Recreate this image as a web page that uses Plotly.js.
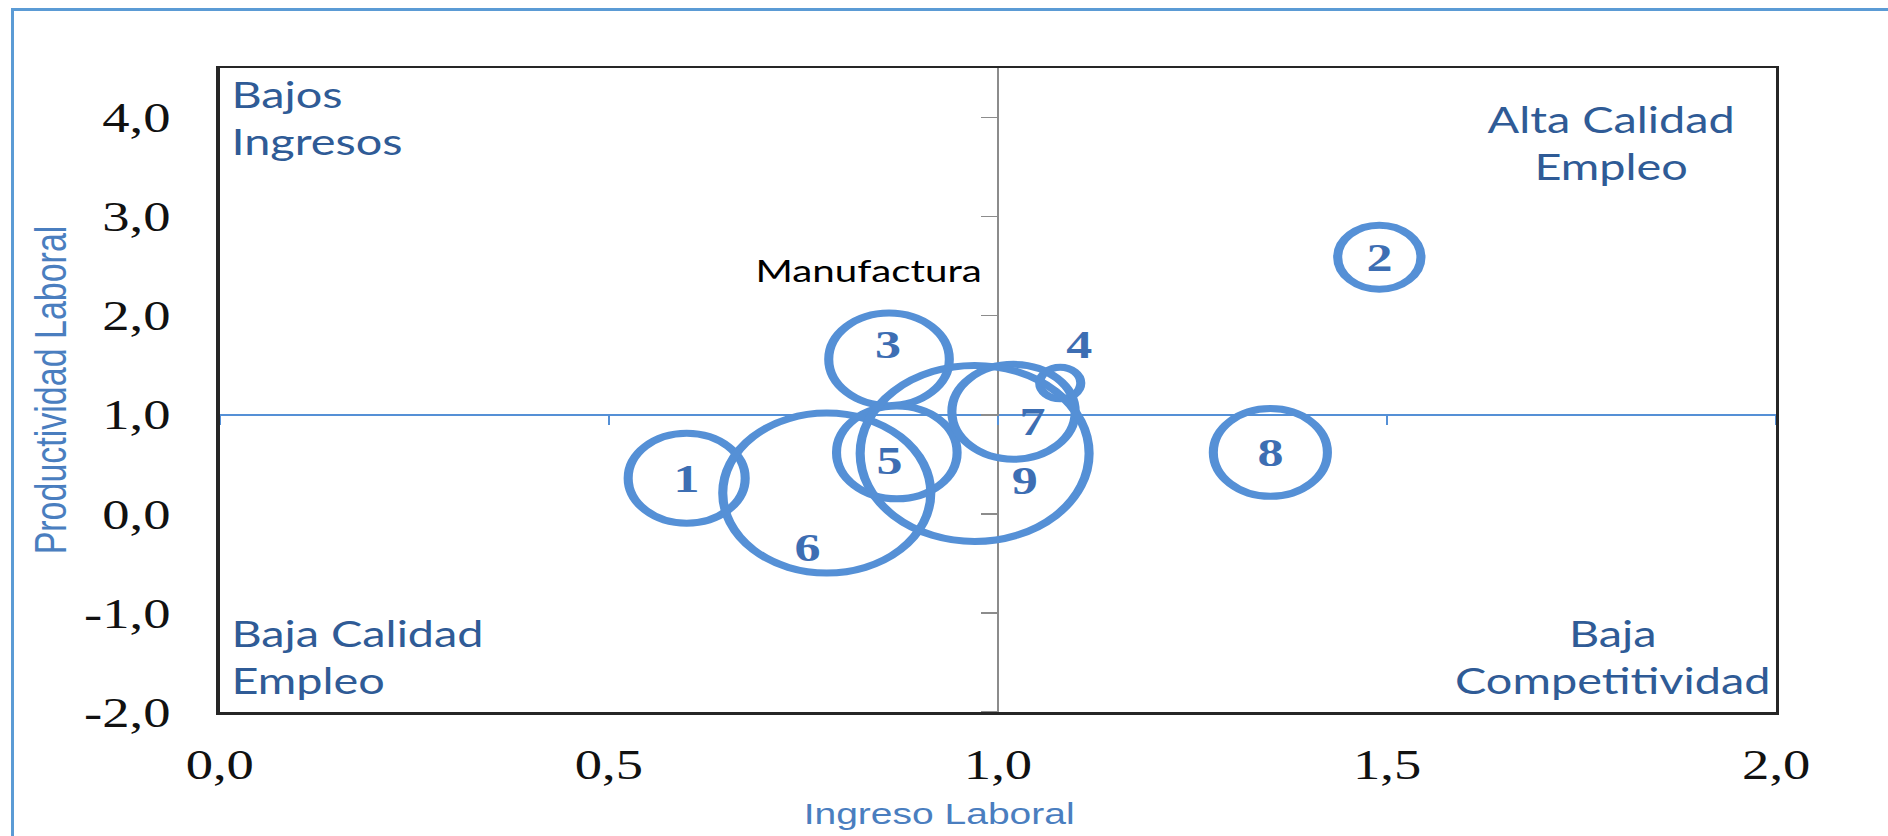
<!DOCTYPE html>
<html>
<head>
<meta charset="utf-8">
<script src="https://cdn.plot.ly/plotly-3.0.1.min.js"></script>
<style>
  html, body { margin: 0; padding: 0; background: #ffffff; overflow: hidden; }
  #marco { position: absolute; left: 11px; top: 8px; width: 1900px; height: 900px;
           border-left: 3px solid #5B9BD5; border-top: 3px solid #5B9BD5; pointer-events: none; z-index: 5; }
  #grafico { position: absolute; left: 0; top: 0; width: 1452px; height: 836px;
             transform: scaleX(1.3003); transform-origin: 0 0; }
</style>
</head>
<body>
<div id="grafico"></div>
<div id="marco"></div>
<script>
// ---- Datos ----
const sectores = ['1', '2', '3', '4', '5', '6', '7', '8', '9'];
const ingresoLaboral = [0.60, 1.49, 0.86, 1.08, 0.87, 0.78, 1.02, 1.35, 0.97];
const productividadLaboral = [0.36, 2.59, 1.56, 1.32, 0.62, 0.21, 1.03, 0.62, 0.61];
const pesoEmpleo = [81, 41, 86, 10, 86, 256, 90, 77, 310];

const ticksIngreso = [0, 0.5, 1, 1.5, 2];
const ticksProductividad = [-2, -1, 0, 1, 2, 3, 4];
const rangoX = [0, 2];
const rangoY = [-2, 4.5];
const cruceX = 1.0;   // ingreso laboral de referencia
const cruceY = 1.0;   // productividad laboral de referencia

const cuadrantes = ['Bajos<br>Ingresos', 'Alta Calidad<br>Empleo', 'Baja Calidad<br>Empleo', 'Baja<br>Competitividad'];
const etiquetaGrupo = 'Manufactura';
const tituloX = 'Ingreso Laboral';
const tituloY = 'Productividad Laboral';

// ---- Estilos ----
const azulBurbuja = '#5590D6';
const azulEtiqueta = '#3D6EB3';
const azulCuadrante = '#2F5B96';
const azulTitulo = '#4A7EBF';
const desplazamientos = [[0,0],[0,0],[-1,15],[15,39],[-6,-8],[-15,-54],[15,-10],[0,0],[38,-27]];
const fmt = v => v.toFixed(1).replace('.', ',');

const burbujas = {
  type: 'scatter', mode: 'markers',
  x: ingresoLaboral, y: productividadLaboral,
  text: sectores, hoverinfo: 'text',
  marker: {
    size: pesoEmpleo, sizemode: 'area', sizeref: 0.02, opacity: 1,
    color: 'rgba(0,0,0,0)',
    line: { color: azulBurbuja, width: 7 }
  },
  showlegend: false, cliponaxis: false
};
const ejesCruce = {
  type: 'scatter', mode: 'markers', x: [], y: [],
  xaxis: 'x2', yaxis: 'y2', showlegend: false, hoverinfo: 'skip'
};

const annotations = [];
sectores.forEach((s, i) => {
  annotations.push({
    xref: 'x', yref: 'y', x: ingresoLaboral[i], y: productividadLaboral[i],
    text: s, showarrow: false, xanchor: 'center', yanchor: 'middle',
    xshift: desplazamientos[i][0], yshift: desplazamientos[i][1],
    font: { family: 'Liberation Serif, Times New Roman, serif', size: 40, color: azulEtiqueta, weight: 'bold' }
  });
});
const fuenteCuadrante = { family: 'Lato, Open Sans, sans-serif', size: 36, color: azulCuadrante };
annotations.push(
  { xref: 'paper', yref: 'paper', x: 0.006, y: 0.997, xanchor: 'left', yanchor: 'top', align: 'left',
    text: cuadrantes[0], showarrow: false, font: fuenteCuadrante },
  { xref: 'paper', yref: 'paper', x: 0.894, y: 0.958, xanchor: 'center', yanchor: 'top', align: 'center',
    text: cuadrantes[1], showarrow: false, font: fuenteCuadrante },
  { xref: 'paper', yref: 'paper', x: 0.006, y: 0.012, xanchor: 'left', yanchor: 'bottom', align: 'left',
    text: cuadrantes[2], showarrow: false, font: fuenteCuadrante },
  { xref: 'paper', yref: 'paper', x: 0.998, y: 0.012, xanchor: 'right', yanchor: 'bottom', align: 'center',
    text: cuadrantes[3], showarrow: false, font: fuenteCuadrante },
  { xref: 'x', yref: 'y', x: 0.834, y: 2.46, xanchor: 'center', yanchor: 'middle',
    text: etiquetaGrupo, showarrow: false,
    font: { family: 'Lato, Open Sans, sans-serif', size: 31, color: '#000000' } },
  { xref: 'paper', yref: 'paper', x: 0.462, y: -0.157, xanchor: 'center', yanchor: 'middle',
    text: tituloX, showarrow: false,
    font: { family: 'Liberation Sans, Arial, sans-serif', size: 30, color: azulTitulo } }
);

const fuenteTicks = { family: 'Liberation Serif, Times New Roman, serif', size: 42, color: '#111111' };
const layout = {
  width: 1452, height: 836,
  margin: { l: 169, r: 86, t: 68, b: 124 },
  paper_bgcolor: '#ffffff', plot_bgcolor: '#ffffff',
  xaxis: {
    range: rangoX, tickvals: ticksIngreso, ticktext: ticksIngreso.map(fmt), ticks: '',
    showgrid: false, zeroline: false, showline: true, mirror: true,
    linecolor: '#262626', linewidth: 2.5, tickfont: fuenteTicks, ticklabelstandoff: 14,
    fixedrange: true
  },
  yaxis: {
    range: rangoY, tickvals: ticksProductividad, ticktext: ticksProductividad.map(fmt), ticks: '',
    showgrid: false, zeroline: false, showline: true, mirror: true,
    linecolor: '#262626', linewidth: 2.5, tickfont: fuenteTicks, ticklabelstandoff: 27,
    title: { text: tituloY, standoff: 3,
             font: { family: 'Liberation Sans, Arial, sans-serif', size: 34, color: azulTitulo } },
    automargin: false, fixedrange: true
  },
  xaxis2: {
    overlaying: 'x', anchor: 'free',
    position: (cruceY - rangoY[0]) / (rangoY[1] - rangoY[0]),
    range: rangoX, tickvals: ticksIngreso, ticks: 'outside', ticklen: 9, tickwidth: 1.5,
    tickcolor: azulBurbuja, showticklabels: false, showgrid: false, zeroline: false,
    showline: true, linecolor: azulBurbuja, linewidth: 2, layer: 'below traces', fixedrange: true
  },
  yaxis2: {
    overlaying: 'y', anchor: 'free', side: 'left',
    position: (cruceX - rangoX[0]) / (rangoX[1] - rangoX[0]),
    range: rangoY, tickvals: ticksProductividad, ticks: 'outside', ticklen: 12, tickwidth: 1.5,
    tickcolor: '#8C8C8C', showticklabels: false, showgrid: false, zeroline: false,
    showline: true, linecolor: '#8C8C8C', linewidth: 2, layer: 'below traces', fixedrange: true
  },
  annotations: annotations
};

Plotly.newPlot('grafico', [ejesCruce, burbujas], layout, { displayModeBar: false, staticPlot: true });
</script>
</body>
</html>
